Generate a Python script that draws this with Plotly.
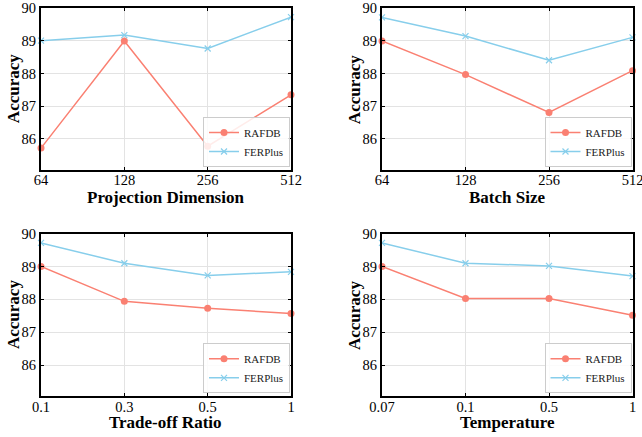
import plotly.graph_objects as go

# ---- data ----
proj_labels = ["64", "128", "256", "512"]
proj_rafdb = [85.72, 89.00, 85.78, 87.35]
proj_ferplus = [89.01, 89.18, 88.77, 89.73]

batch_labels = ["64", "128", "256", "512"]
batch_rafdb = [89.00, 87.97, 86.81, 88.09]
batch_ferplus = [89.72, 89.15, 88.41, 89.11]

ratio_labels = ["0.1", "0.3", "0.5", "1"]
ratio_rafdb = [89.00, 87.94, 87.73, 87.57]
ratio_ferplus = [89.72, 89.10, 88.73, 88.84]

temp_labels = ["0.07", "0.1", "0.5", "1"]
temp_rafdb = [89.00, 88.03, 88.03, 87.52]
temp_ferplus = [89.72, 89.10, 89.02, 88.71]

y_ticks = [86, 87, 88, 89, 90]

panels = [
    ("Projection Dimension", proj_labels, proj_rafdb, proj_ferplus),
    ("Batch Size", batch_labels, batch_rafdb, batch_ferplus),
    ("Trade-off Ratio", ratio_labels, ratio_rafdb, ratio_ferplus),
    ("Temperature", temp_labels, temp_rafdb, temp_ferplus),
]

W, H = 642, 437
RED = "#FA8072"
BLUE = "#87CEEB"
FONT = "Times New Roman, Liberation Serif, serif"


def px(x):
    return x / W


def py(y):
    return 1 - y / H


# reference-pixel boxes: (left, right, top, bottom, xtitle_y)
boxes = [
    (41, 291, 8.3, 170, 197),
    (382, 632.5, 8.3, 170, 197),
    (41, 291, 233.7, 396.3, 422),
    (382, 632.5, 233.7, 396.3, 422),
]

fig = go.Figure()
layout = {}
annotations = []
for i, (title, labels, rafdb, ferplus) in enumerate(panels):
    n = i + 1
    xa = "x" if n == 1 else f"x{n}"
    ya = "y" if n == 1 else f"y{n}"
    lg = "legend" if n == 1 else f"legend{n}"
    xs = list(range(len(labels)))
    fig.add_trace(go.Scatter(
        x=xs, y=rafdb, name="RAFDB", mode="lines+markers",
        line=dict(color=RED, width=1.5),
        marker=dict(symbol="circle", size=7, color=RED),
        xaxis=xa, yaxis=ya, legend=lg, cliponaxis=False))
    fig.add_trace(go.Scatter(
        x=xs, y=ferplus, name="FERPlus", mode="lines+markers",
        line=dict(color=BLUE, width=1.5),
        marker=dict(symbol="x-thin", size=6, color=BLUE,
                    line=dict(color=BLUE, width=1.2)),
        xaxis=xa, yaxis=ya, legend=lg, cliponaxis=False))

    l, r, t, b, ty = boxes[i]
    key_x = "xaxis" if n == 1 else f"xaxis{n}"
    key_y = "yaxis" if n == 1 else f"yaxis{n}"
    common = dict(
        showgrid=True, gridcolor="#e3e3e3", gridwidth=1,
        showline=True, linecolor="black", linewidth=2, mirror="ticks",
        ticks="inside", ticklen=3, tickcolor="black", tickwidth=1,
        zeroline=False, automargin=False, ticklabeloverflow="allow",
        tickfont=dict(family=FONT, size=14.5, color="black"),
    )
    layout[key_x] = dict(
        domain=[px(l), px(r)], anchor=ya, range=[0, 3],
        tickmode="array", tickvals=xs, ticktext=labels,
        ticklabelstandoff=-4, **common)
    layout[key_y] = dict(
        domain=[py(b), py(t)], anchor=xa, range=[85.05, 90],
        tickmode="array", tickvals=y_ticks, **common)
    layout[lg] = dict(
        x=px(r - 1), y=py(b - 3), xanchor="right", yanchor="bottom",
        bgcolor="rgba(255,255,255,0.85)", bordercolor="#cccccc", borderwidth=1,
        font=dict(family=FONT, size=11, color="#222222"),
        itemwidth=30, tracegroupgap=0,
    )
    annotations.append(dict(
        text=f"<b>{title}</b>", x=px((l + r) / 2), y=py(ty),
        xref="paper", yref="paper", xanchor="center", yanchor="middle",
        showarrow=False, font=dict(family=FONT, size=17, color="black")))
    annotations.append(dict(
        text="<b>Accuracy</b>", x=px(l - 28), y=py((t + b) / 2),
        xref="paper", yref="paper", xanchor="center", yanchor="middle",
        textangle=-90, showarrow=False,
        font=dict(family=FONT, size=17, color="black")))

fig.update_layout(
    width=W, height=H, margin=dict(l=0, r=0, t=0, b=0, autoexpand=False),
    plot_bgcolor="white", paper_bgcolor="white",
    showlegend=True, annotations=annotations, **layout,
)

fig.write_html(
    "out.html",
    config={"displayModeBar": False},
    post_script="document.body.style.margin='0';document.body.style.overflow='hidden';",
)
